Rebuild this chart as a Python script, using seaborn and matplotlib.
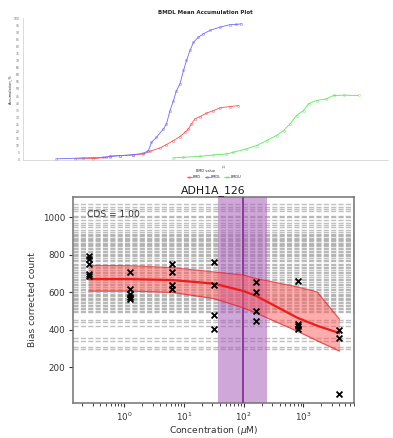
import numpy as np
import pandas as pd
import matplotlib
matplotlib.use("Agg")
import matplotlib.pyplot as plt
import seaborn as sns

# ---------------- data: top accumulation plot ----------------
blue_x = [-3.37, -2.83, -2.43, -2.30, -2.10, -1.83, -1.63, -1.53, -1.47, -1.37, -1.23, -1.17,
          -1.10, -1.03, -0.97, -0.90, -0.83, -0.77, -0.70, -0.63, -0.53, -0.43, -0.30, -0.10,
          0.10, 0.23, 0.33]
blue_y = [0.3, 1.0, 1.4, 1.9, 2.6, 3.3, 4.3, 6.2, 12.1, 15.7, 21.7, 25.2, 34.7, 41.8, 48.9,
          53.7, 63.2, 70.3, 77.4, 83.3, 86.9, 89.3, 91.7, 94.0, 95.7, 95.9, 96.4]
red_x = [-3.00, -2.63, -2.37, -2.30, -2.10, -1.83, -1.63, -1.50, -1.30, -1.17, -1.03, -0.90,
         -0.80, -0.73, -0.67, -0.60, -0.50, -0.37, -0.23, -0.10, 0.10, 0.27]
red_y = [0.3, 0.5, 1.4, 2.4, 2.6, 3.1, 3.8, 5.7, 8.1, 10.5, 13.3, 16.2, 19.2, 21.7, 25.2,
         28.8, 30.4, 32.8, 34.7, 36.6, 37.5, 38.2]
green_x = [-1.03, -0.83, -0.50, -0.23, 0.03, 0.17, 0.43, 0.63, 0.83, 1.03, 1.17, 1.30, 1.43,
           1.57, 1.67, 1.83, 2.03, 2.17, 2.37, 2.67]
green_y = [1.0, 1.4, 2.1, 3.1, 3.8, 5.0, 7.4, 9.8, 13.3, 16.9, 20.4, 25.2, 31.1, 34.7, 39.5,
           41.8, 43.0, 45.4, 45.6, 45.4]
top_labels = ["BMD", "BMDL", "BMDU"]
top_yticks = list(range(0, 101, 5))

# ---------------- data: bottom dose-response plot ----------------
title = "ADH1A_126"
conc = [0.256] * 5 + [1.28] * 5 + [6.4] * 4 + [32] * 4 + [160] * 4 + [800] * 4 + [4000] * 3
counts = [790, 775, 750, 695, 685,
          707, 616, 590, 573, 563,
          749, 707, 637, 616,
          760, 640, 477, 403,
          653, 600, 497, 447,
          660, 432, 418, 405,
          395, 355, 55]
band_conc = [0.256, 1.28, 6.4, 32, 100, 160, 800, 1700, 4000]
band_upper = [742, 740, 730, 707, 690, 672, 627, 600, 455]
band_mean = [669, 669, 664, 645, 605, 580, 462, 420, 381]
band_lower = [605, 605, 598, 565, 515, 488, 390, 340, 285]
bmd_low, bmd, bmd_high = 37, 96, 242
gray_levels = [1068, 1055, 1042, 1030, 1008, 998, 985, 970, 958, 945, 932, 920, 912, 905,
               898, 890, 884, 878, 870, 864, 858, 850, 844, 836, 828, 820, 812, 804, 797,
               790, 780, 772, 763, 752, 745, 735, 727, 718, 708, 700, 690, 680, 672, 663,
               655, 645, 636, 628, 618, 610, 600, 592, 585, 577, 570, 562, 555, 547, 540,
               532, 524, 516, 508, 500, 492, 450, 440, 420, 355, 340, 305, 295]
cds_text = "CDS = 1.00"
yticks = [200, 400, 600, 800, 1000]

sns.set_style("white")
plt.rcParams["font.family"] = ["DejaVu Sans"]

W, H = 393, 438
fig = plt.figure(figsize=(W / 100, H / 100), dpi=100)

def box(l, t, r, b):
    return [l / W, 1 - b / H, (r - l) / W, (b - t) / H]

# ---------------- top axes ----------------
axt = fig.add_axes(box(23, 18, 388, 160))
cols = ["#ff4d4d", "#6b6bff", "#5ce65c"]
for xs, ys, c, lab in [(red_x, red_y, cols[0], top_labels[0]),
                       (blue_x, blue_y, cols[1], top_labels[1]),
                       (green_x, green_y, cols[2], top_labels[2])]:
    sns.lineplot(x=xs, y=ys, ax=axt, color=c, lw=0.6, marker="o", markersize=1.6,
                 markeredgewidth=0.3, markerfacecolor="none", markeredgecolor=c,
                 sort=False, estimator=None, label=lab, legend=False)
axt.set_xlim(-4.04, 3.26)
axt.set_ylim(-0.5, 100.5)
axt.set_yticks(top_yticks)
axt.set_yticklabels([str(v) for v in top_yticks], fontsize=2.2)
axt.set_xticks([0])
axt.set_xticklabels(["10"], fontsize=2.5, rotation=90)
axt.tick_params(length=1.2, width=0.3, pad=1, colors="0.4")
for s in ["top", "right"]:
    axt.spines[s].set_visible(False)
for s in ["left", "bottom"]:
    axt.spines[s].set_color("0.8")
    axt.spines[s].set_linewidth(0.5)
axt.set_title("BMDL Mean Accumulation Plot", fontsize=4, fontweight="bold", pad=3)
axt.set_ylabel("Accumulation_%", fontsize=2.5, labelpad=1)
axt.set_xlabel("BMD value", fontsize=2.5, labelpad=1)
h, l = axt.get_legend_handles_labels()
fig.legend(h, l, loc="center", bbox_to_anchor=(214 / W, 1 - 177.5 / H), ncol=3,
           fontsize=2.5, frameon=False, handlelength=1.5, columnspacing=1.0,
           handletextpad=0.3)

# ---------------- bottom axes ----------------
ax = fig.add_axes(box(73, 197, 354, 403))
ax.set_xscale("log")
for lv in gray_levels:
    ax.axhline(lv, color="gray", alpha=0.5, lw=1.0, ls="--", zorder=1)
ax.axvspan(bmd_low, bmd_high, color="#a960b8", alpha=0.55, lw=0, zorder=2)
ax.axvline(bmd, color="#8a3a9c", lw=1.4, zorder=3)
ax.fill_between(band_conc, band_lower, band_upper, color="#ff5a5a", alpha=0.5, lw=0, zorder=3)
sns.lineplot(x=band_conc, y=band_upper, ax=ax, color="#e82020", lw=0.9, alpha=0.7, zorder=4)
sns.lineplot(x=band_conc, y=band_lower, ax=ax, color="#e82020", lw=0.9, alpha=0.7, zorder=4)
sns.lineplot(x=band_conc, y=band_mean, ax=ax, color="#ee1c1c", lw=1.6, zorder=5)
sns.scatterplot(x=conc, y=counts, ax=ax, marker="x", color="black", s=18, linewidth=1.3,
                zorder=6)
ax.set_xlim(0.14, 7000)
ax.set_ylim(8, 1107)
ax.set_yticks(yticks)
ax.tick_params(axis="both", labelsize=6.3, length=3, width=0.8, colors="0.2", left=True,
               bottom=True, pad=2.5)
ax.tick_params(axis="x", which="minor", length=1.8, width=0.6, bottom=True)
for s in ax.spines.values():
    s.set_color("0.45")
    s.set_linewidth(1.1)
ax.set_title(title, fontsize=7.8, color="0.1", pad=3)
ax.set_ylabel("Bias corrected count", fontsize=6.6, color="0.2", labelpad=4)
ax.set_xlabel("Concentration ($\\mu$M)", fontsize=6.6, color="0.2", labelpad=1)
ax.text(0.05, 0.917, cds_text, transform=ax.transAxes, fontsize=6.6, va="center",
        ha="left", color="0.2", zorder=7)

fig.savefig("out.png", dpi=100)
